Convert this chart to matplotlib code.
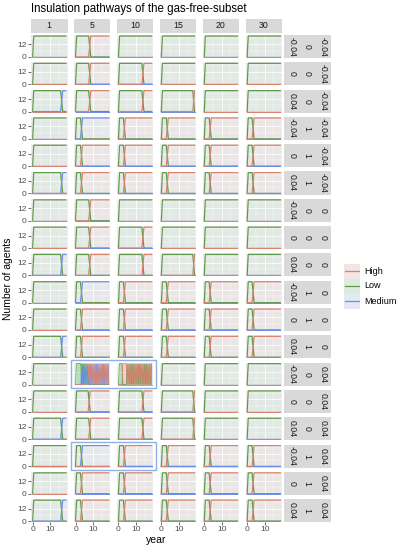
import numpy as np
import matplotlib
matplotlib.use("Agg")
import matplotlib.pyplot as plt
from matplotlib.patches import Rectangle

plt.rcParams['font.family'] = ['Liberation Sans', 'DejaVu Sans']

# ---------------- data ----------------
title = "Insulation pathways of the gas-free-subset"
col_labels = ["1", "5", "10", "15", "20", "30"]
strip_a = ["-0.04", "0", "0.04", "-0.04", "0", "0.04",
           "-0.04", "0", "0.04", "-0.04", "0", "0.04",
           "-0.04", "0", "0.04", "-0.04", "0", "0.04"]
strip_b = ["0", "0", "0", "1", "1", "1",
           "0", "0", "0", "1", "1", "1",
           "0", "0", "0", "1", "1", "1"]
strip_c = ["-0.04", "-0.04", "-0.04", "-0.04", "-0.04", "-0.04",
           "0", "0", "0", "0", "0", "0",
           "0.04", "0.04", "0.04", "0.04", "0.04", "0.04"]
series = ["High", "Low", "Medium"]
year_start, year_end = 0, 19

# year at which Low (20 agents) gives way to the target series; None = stays Low
switch = [
    [None, 7.5, None, None, None, None],
    [None, 7.5, 13.4, None, None, None],
    [16.0, 7.5, 13.4, 18.0, None, None],
    [None, 2.8, 2.8, 2.8, 2.8, 2.8],
    [None, 2.8, 2.8, 2.8, 2.8, 2.8],
    [16.0, 2.8, 2.8, 2.8, 2.8, 2.8],
    [None, 7.5, None, None, None, None],
    [None, 7.5, 13.4, None, None, None],
    [16.0, 7.5, 13.4, 18.0, None, None],
    [None, 2.8, 2.8, 2.8, 2.8, 2.8],
    [None, 2.8, 2.8, 2.8, 2.8, 2.8],
    [16.0, 2.8, 2.8, 2.8, 2.8, 2.8],
    [None, "osc", "osc", None, None, None],
    [None, 7.2, 13.4, 18.0, None, None],
    [16.0, 7.5, 13.4, 18.0, None, None],
    [None, 2.8, 2.8, 2.8, 2.8, 2.8],
    [None, 2.8, 2.8, 2.8, 2.8, 2.8],
    [16.0, 2.8, 2.8, 2.8, 2.8, 2.8],
]
target = [
    ["H", "H", "H", "H", "H", "H"],
    ["H", "H", "H", "H", "H", "H"],
    ["M", "H", "H", "H", "H", "H"],
    ["H", "M", "H", "H", "H", "H"],
    ["H", "H", "H", "H", "H", "H"],
    ["M", "H", "H", "H", "H", "H"],
    ["H", "H", "H", "H", "H", "H"],
    ["H", "H", "H", "H", "H", "H"],
    ["M", "H", "H", "H", "H", "H"],
    ["H", "M", "H", "H", "H", "H"],
    ["H", "H", "H", "H", "H", "H"],
    ["M", "H", "H", "H", "H", "H"],
    ["H", "H", "H", "H", "H", "H"],
    ["H", "H", "H", "H", "H", "H"],
    ["M", "H", "H", "H", "H", "H"],
    ["H", "M", "H", "H", "H", "H"],
    ["H", "H", "H", "H", "H", "H"],
    ["M", "H", "H", "H", "H", "H"],
]

# oscillating panels (row "-0.04/0/0.04", columns 5 and 10), half-year steps
osc_t = [0, 0.5, 1, 1.5, 2, 2.5, 3, 3.5, 4, 4.5, 5, 5.5, 6, 6.5, 7, 7.5, 8, 8.5, 9, 9.5,
         10, 10.5, 11, 11.5, 12, 12.5, 13, 13.5, 14, 14.5, 15, 15.5, 16, 16.5, 17, 17.5,
         18, 18.5, 19]
osc5_low = [0, 20, 20, 20, 20, 20, 20, 0, 20, 0, 20, 0, 20, 0, 20, 0, 0, 0, 0, 0,
            0, 0, 0, 0, 0, 0, 0, 0, 0, 0, 0, 0, 0, 0, 0, 0, 0, 0, 0]
osc5_med = [0, 0, 0, 0, 0, 0, 0, 20, 0, 20, 0, 20, 0, 20, 0, 0, 20, 0, 20, 0,
            20, 0, 20, 0, 20, 0, 20, 0, 20, 0, 20, 0, 20, 0, 20, 0, 20, 0, 20]
osc5_high = [0, 0, 0, 0, 0, 0, 0, 0, 0, 0, 0, 0, 0, 0, 0, 20, 0, 20, 0, 20,
             0, 20, 0, 20, 0, 20, 0, 20, 0, 20, 0, 20, 0, 20, 0, 20, 0, 20, 0]
osc10_low = [0, 20, 20, 20, 20, 0, 0, 0, 0, 0, 20, 0, 20, 0, 20, 0, 20, 0, 20, 0,
             20, 0, 20, 0, 20, 0, 20, 0, 20, 0, 20, 0, 20, 0, 20, 0, 20, 0, 20]
osc10_high = [0, 0, 0, 0, 0, 20, 20, 20, 20, 20, 0, 20, 0, 20, 0, 20, 0, 20, 0, 20,
              0, 20, 0, 20, 0, 20, 0, 20, 0, 20, 0, 20, 0, 20, 0, 20, 0, 20, 0]
osc10_med = [0, 0, 0, 0, 0, 0, 0, 0, 0, 0, 0, 0, 0, 0, 0, 0, 0, 0, 0, 0,
             0, 0, 0, 0, 0, 0, 0, 0, 0, 0, 0, 0, 0, 0, 0, 0, 0, 0, 0]

highlight_boxes = [(12, 1, 2), (15, 1, 2)]  # (row, first col, last col)

# ---------------- style ----------------
COL = {"High": "#D9826F", "Low": "#62984A", "Medium": "#6A8FEA"}
FILL = {"High": "#F8766D", "Low": "#00BA38", "Medium": "#619CFF"}
Z = {"Low": 2, "Medium": 3, "High": 4}

W, H = 397, 550
fig = plt.figure(figsize=(W / 100, H / 100), dpi=100)


def ax_px(x, y, w, h):
    return fig.add_axes([x / W, 1 - (y + h) / H, w / W, h / H])


def fx(x):
    return x / W


def fy(y):
    return 1 - y / H


left0, pw, cpitch = 31.0, 36.5, 42.9
top0, ph, rpitch = 35.0, 23.0, 27.3
nrow, ncol = len(strip_a), len(col_labels)


def panel_series(r, c):
    s = switch[r][c]
    if s == "osc":
        if c == 1:
            return {"Low": (osc_t, osc5_low), "Medium": (osc_t, osc5_med), "High": (osc_t, osc5_high)}
        return {"Low": (osc_t, osc10_low), "Medium": (osc_t, osc10_med), "High": (osc_t, osc10_high)}
    out = {}
    if s is None:
        out["Low"] = ([year_start, year_start + 0.6, year_end], [0, 20, 20])
        out["High"] = ([year_start, year_end], [0, 0])
        out["Medium"] = ([year_start, year_end], [0, 0])
    else:
        tgt = "High" if target[r][c] == "H" else "Medium"
        other = "Medium" if tgt == "High" else "High"
        e = min(s + 1.2, year_end)
        out["Low"] = ([year_start, year_start + 0.6, s, e, year_end], [0, 20, 20, 0, 0])
        out[tgt] = ([year_start, s, e, year_end], [0, 0, 20, 20])
        out[other] = ([year_start, year_end], [0, 0])
    return out


for r in range(nrow):
    y0 = top0 + r * rpitch
    for c in range(ncol):
        x0 = left0 + c * cpitch
        ax = ax_px(x0, y0, pw, ph)
        ax.set_facecolor("#EBEBEB")
        ax.set_xlim(-0.95, 19.95)
        ax.set_ylim(-1, 21)
        ax.set_xticks([0, 10])
        ax.set_xticks([5, 15], minor=True)
        ax.set_yticks([0, 12])
        ax.set_yticks([6, 18], minor=True)
        ax.grid(True, which="major", color="white", lw=0.7)
        ax.grid(True, which="minor", color="white", lw=0.35)
        ax.set_axisbelow(True)
        for sp in ax.spines.values():
            sp.set_visible(False)
        ax.tick_params(which="minor", length=0)
        ax.tick_params(which="major", length=2, width=0.5, color="#333333",
                       labelsize=6, labelcolor="#4D4D4D", pad=1)
        if c != 0:
            ax.tick_params(axis="y", which="major", length=0, labelleft=False)
        if r != nrow - 1:
            ax.tick_params(axis="x", which="major", length=0, labelbottom=False)
        data = panel_series(r, c)
        osc = switch[r][c] == "osc"
        for name in series:
            xs, ys = data[name]
            ax.fill_between(xs, 0, ys, color=FILL[name], alpha=0.25 if osc else 0.035,
                            lw=0, zorder=1)
        for name in ["Low", "Medium", "High"]:
            xs, ys = data[name]
            ax.plot(xs, ys, color=COL[name], lw=0.6 if osc else 0.9,
                    alpha=0.9 if osc else 1.0, zorder=Z[name], solid_joinstyle="miter")
    # right strip
    sx0 = left0 + (ncol - 1) * cpitch + pw + 2
    sw = 46.5
    fig.patches.append(Rectangle((fx(sx0), fy(y0 + ph)), sw / W, ph / H,
                                 transform=fig.transFigure, facecolor="#D9D9D9",
                                 edgecolor="none"))
    for k, lab in enumerate([strip_a[r], strip_b[r], strip_c[r]]):
        fig.text(fx(sx0 + sw * (k + 0.5) / 3), fy(y0 + ph / 2), lab, rotation=270,
                 ha="center", va="center", fontsize=6.3, color="#1A1A1A")

# top strips
for c in range(ncol):
    x0 = left0 + c * cpitch
    fig.patches.append(Rectangle((fx(x0), fy(top0 - 2)), pw / W, 14 / H,
                                 transform=fig.transFigure, facecolor="#D9D9D9",
                                 edgecolor="none"))
    fig.text(fx(x0 + pw / 2), fy(top0 - 2 - 7), col_labels[c], ha="center", va="center",
             fontsize=6.3, color="#1A1A1A")

# highlight boxes
for (r, c1, c2) in highlight_boxes:
    x1 = left0 + c1 * cpitch - 2.5
    x2 = left0 + c2 * cpitch + pw + 2.5
    y1 = top0 + r * rpitch - 2.5
    y2 = top0 + r * rpitch + ph + 2.5
    fig.patches.append(Rectangle((fx(x1), fy(y2)), (x2 - x1) / W, (y2 - y1) / H,
                                 transform=fig.transFigure, facecolor="none",
                                 edgecolor="#8DB0E6", lw=1.0, zorder=10))

# titles
fig.text(fx(31), fy(9), title, ha="left", va="center", fontsize=8.3, color="#000000")
fig.text(fx(left0 + (ncol * cpitch - (cpitch - pw)) / 2), fy(540), "year", ha="center",
         va="center", fontsize=7.5, color="#000000")
fig.text(fx(8), fy(top0 + (nrow * rpitch - (rpitch - ph)) / 2), "Number of agents",
         rotation=90, ha="center", va="center", fontsize=7.5, color="#000000")

# legend
for k, name in enumerate(series):
    cy = 271 + 15 * k
    kax = ax_px(344, cy - 7.5, 16, 15)
    kax.set_facecolor("#F2F2F2")
    kax.set_xlim(0, 1)
    kax.set_ylim(0, 1)
    kax.fill_between([0, 1], 0, 1, color=FILL[name], alpha=0.1, lw=0)
    kax.plot([0.05, 0.95], [0.5, 0.5], color=COL[name], lw=0.9)
    kax.set_xticks([])
    kax.set_yticks([])
    for sp in kax.spines.values():
        sp.set_visible(False)
    fig.text(fx(364), fy(cy), name, ha="left", va="center", fontsize=6.5, color="#000000")

fig.savefig("out.png", dpi=100)
